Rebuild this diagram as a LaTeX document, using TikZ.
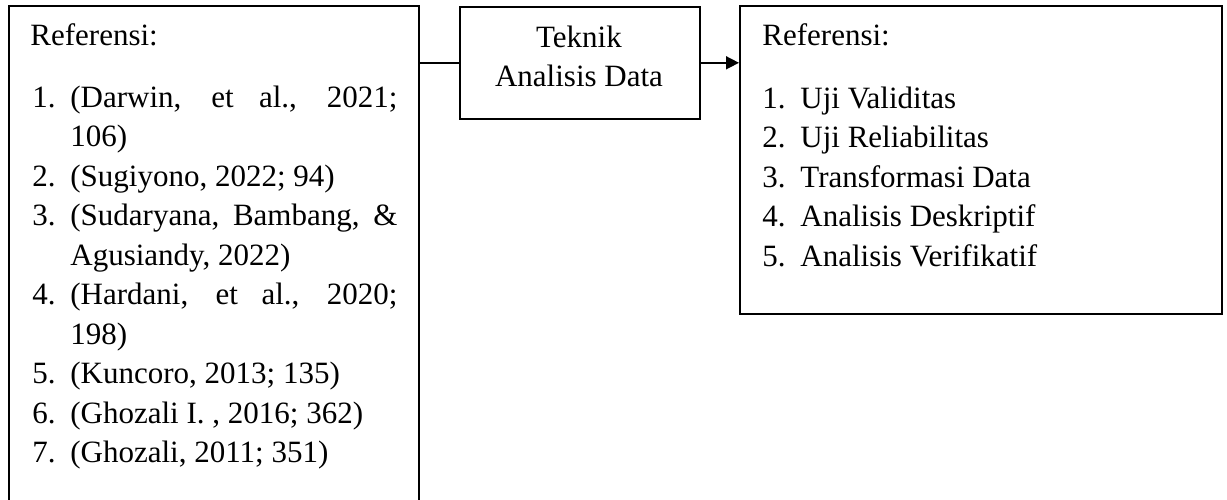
\documentclass[tikz,border=0pt]{standalone}
\usepackage{fontspec}
\setmainfont{Liberation Serif}
\usetikzlibrary{arrows.meta}
\tikzset{
  box/.style={draw, line width=0.8pt, anchor=north west, inner sep=0pt},
  txt/.style={anchor=base west, inner sep=0pt, font=\fontsize{15.5}{19.5}\selectfont},
  mtxt/.style={anchor=base, inner sep=0pt, font=\fontsize{15.5}{19.5}\selectfont},
  link/.style={line width=0.8pt},
}
\newcommand{\lab}[1]{\makebox[19pt][l]{#1}}
\newcommand{\jline}[1]{\makebox[163.5pt][s]{#1}}

\begin{document}
\begin{tikzpicture}[x=0.5pt,y=-0.5pt]
            \useasboundingbox (0,0) rectangle (1227,499);
            \node[box, minimum width=205pt, minimum height=252.5pt] (ref) at (8,5) {};
            \node[box, minimum width=120pt, minimum height=56pt] (tad) at (459,6) {};
            \node[box, minimum width=241pt, minimum height=154pt] (uji) at (739,5) {};
            \node[mtxt] (tad1) at (579,47) {Teknik};
            \node[mtxt] (tad2) at (579,86) {Analisis Data};
            \node[txt] (refhead) at (30,45) {Referensi:};
            \node[txt] (ujihead) at (762,45) {Referensi:};
            \foreach \txt [count=\i, evaluate=\i as \y using 107+39.5*(\i-1)] in {
                {\lab{1.}\jline{(Darwin, et al., 2021;}},
                {\lab{}106)},
                {\lab{2.}(Sugiyono, 2022; 94)},
                {\lab{3.}\jline{(Sudaryana, Bambang, \&}},
                {\lab{}Agusiandy, 2022)},
                {\lab{4.}\jline{(Hardani, et al., 2020;}},
                {\lab{}198)},
                {\lab{5.}(Kuncoro, 2013; 135)},
                {\lab{6.}(Ghozali I. , 2016; 362)},
                {\lab{7.}(Ghozali, 2011; 351)}}
              \node[txt] (refline\i) at (32,\y) {\txt};
            \foreach \txt [count=\i, evaluate=\i as \y using 108+39.5*(\i-1)] in {
                Uji Validitas, Uji Reliabilitas, Transformasi Data,
                Analisis Deskriptif, Analisis Verifikatif}
              \node[txt] (ujiline\i) at (762,\y) {\lab{\i.}\txt};
            \draw[link] (tad.west) -- (tad.west -| ref.east);
            \draw[link,-{Triangle[length=6.5pt,width=6.5pt]}] (tad.east) -- (tad.east -| uji.west);
        \end{tikzpicture}
\end{document}
